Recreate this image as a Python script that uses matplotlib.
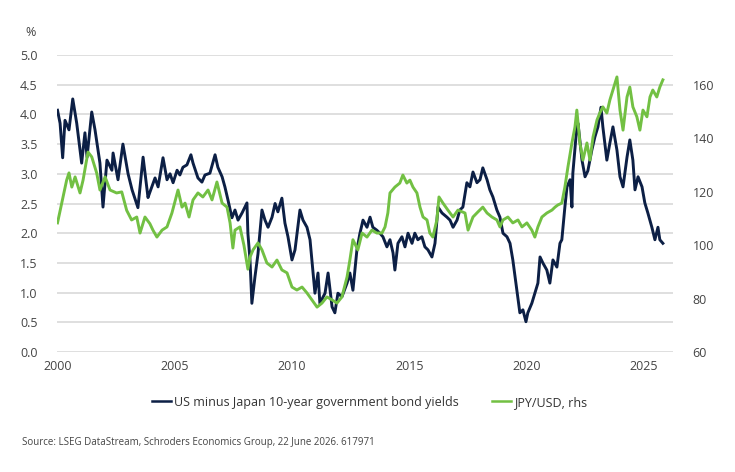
import matplotlib
matplotlib.use("Agg")
import matplotlib.pyplot as plt
from matplotlib.lines import Line2D

# US minus Japan 10y yield spread (%), decimal year vs value
spread_t = [2000.00, 2000.11, 2000.22, 2000.32, 2000.49, 2000.65, 2000.82, 2001.03, 2001.17, 2001.26,
            2001.46, 2001.60, 2001.81, 2001.94, 2002.11, 2002.32, 2002.37, 2002.58, 2002.79, 2003.01,
            2003.18, 2003.43, 2003.65, 2003.86, 2003.94, 2004.16, 2004.29, 2004.50, 2004.67, 2004.80,
            2004.93, 2005.10, 2005.22, 2005.35, 2005.52, 2005.69, 2005.78, 2005.99, 2006.16, 2006.29,
            2006.50, 2006.72, 2006.84, 2007.02, 2007.14, 2007.27, 2007.44, 2007.57, 2007.70, 2007.87,
            2008.08, 2008.12, 2008.21, 2008.29, 2008.42, 2008.55, 2008.72, 2008.85, 2008.98, 2009.15,
            2009.28, 2009.40, 2009.57, 2009.70, 2009.83, 2010.00, 2010.13, 2010.34, 2010.47, 2010.64,
            2010.77, 2010.98, 2011.11, 2011.19, 2011.41, 2011.54, 2011.71, 2011.83, 2011.96, 2012.13,
            2012.35, 2012.47, 2012.60, 2012.77, 2012.90, 2013.03, 2013.20, 2013.33, 2013.45, 2013.62,
            2013.75, 2013.88, 2014.05, 2014.18, 2014.31, 2014.39, 2014.52, 2014.69, 2014.82, 2014.95,
            2015.12, 2015.24, 2015.37, 2015.54, 2015.67, 2015.80, 2015.97, 2016.10, 2016.23, 2016.40,
            2016.61, 2016.74, 2016.87, 2017.04, 2017.16, 2017.29, 2017.46, 2017.59, 2017.72, 2017.89,
            2018.02, 2018.14, 2018.32, 2018.44, 2018.57, 2018.74, 2018.87, 2019.00, 2019.17, 2019.30,
            2019.42, 2019.59, 2019.72, 2019.85, 2019.98, 2020.06, 2020.23, 2020.36, 2020.49, 2020.58,
            2020.70, 2020.87, 2021.00, 2021.13, 2021.30, 2021.43, 2021.51, 2021.64, 2021.73, 2021.86,
            2021.94, 2021.98, 2022.15, 2022.20, 2022.37, 2022.50, 2022.62, 2022.79, 2022.92, 2023.05,
            2023.18, 2023.26, 2023.43, 2023.56, 2023.69, 2023.86, 2023.99, 2024.12, 2024.29, 2024.41,
            2024.54, 2024.63, 2024.76, 2024.93, 2025.05, 2025.18, 2025.35, 2025.48, 2025.61, 2025.69,
            2025.82]
spread_v = [4.07, 3.85, 3.27, 3.90, 3.74, 4.26, 3.85, 3.18, 3.69, 3.28,
            4.04, 3.74, 3.18, 2.44, 3.23, 3.06, 3.35, 2.90, 3.50, 3.00,
            2.73, 2.43, 3.28, 2.60, 2.69, 2.93, 2.78, 3.27, 2.90, 3.00,
            2.85, 3.06, 2.98, 3.11, 3.15, 3.32, 3.18, 2.93, 2.86, 2.98,
            3.01, 3.32, 3.11, 2.95, 2.78, 2.56, 2.26, 2.39, 2.22, 2.34,
            2.51, 2.00, 1.55, 0.82, 1.26, 1.65, 2.39, 2.22, 2.10, 2.27,
            2.50, 2.36, 2.59, 2.17, 1.94, 1.55, 1.72, 2.39, 2.22, 2.10,
            1.89, 0.99, 1.33, 0.82, 0.99, 1.33, 0.76, 0.66, 0.99, 0.93,
            1.16, 1.33, 1.04, 1.72, 2.00, 2.22, 2.10, 2.27, 2.10, 2.05,
            2.00, 1.94, 1.77, 1.89, 1.67, 1.38, 1.83, 1.94, 1.77, 2.00,
            1.83, 2.00, 1.89, 1.94, 1.77, 1.72, 1.60, 1.83, 2.44, 2.34,
            2.27, 2.22, 2.10, 2.22, 2.39, 2.44, 2.85, 2.78, 3.03, 2.85,
            2.90, 3.10, 2.90, 2.73, 2.61, 2.39, 2.27, 2.00, 1.94, 1.83,
            1.55, 1.04, 0.66, 0.71, 0.51, 0.66, 0.82, 0.99, 1.16, 1.60,
            1.50, 1.38, 1.16, 1.55, 1.43, 1.83, 1.89, 2.44, 2.78, 2.90,
            2.44, 3.01, 3.79, 3.85, 3.23, 2.95, 3.05, 3.40, 3.62, 3.79,
            4.12, 3.79, 3.23, 3.52, 3.79, 3.40, 2.95, 2.78, 3.28, 3.57,
            3.23, 2.73, 2.95, 2.78, 2.51, 2.34, 2.10, 1.89, 2.10, 1.89,
            1.83]

# JPY per USD (rhs)
jpy_t = [2000.00, 2000.18, 2000.39, 2000.49, 2000.61, 2000.75, 2000.96, 2001.09, 2001.30, 2001.46,
         2001.67, 2001.81, 2002.03, 2002.24, 2002.52, 2002.74, 2002.95, 2003.16, 2003.38, 2003.52,
         2003.73, 2003.94, 2004.07, 2004.24, 2004.46, 2004.67, 2004.88, 2005.14, 2005.31, 2005.44,
         2005.61, 2005.78, 2005.99, 2006.20, 2006.42, 2006.59, 2006.80, 2007.02, 2007.23, 2007.36,
         2007.48, 2007.57, 2007.78, 2007.95, 2008.12, 2008.21, 2008.34, 2008.55, 2008.72, 2008.93,
         2009.15, 2009.36, 2009.57, 2009.79, 2010.00, 2010.21, 2010.43, 2010.64, 2010.85, 2011.07,
         2011.28, 2011.49, 2011.71, 2011.92, 2012.13, 2012.35, 2012.47, 2012.60, 2012.81, 2012.99,
         2013.20, 2013.41, 2013.62, 2013.84, 2013.97, 2014.09, 2014.18, 2014.39, 2014.60, 2014.73,
         2014.90, 2015.03, 2015.16, 2015.33, 2015.46, 2015.59, 2015.76, 2015.88, 2016.01, 2016.18,
         2016.27, 2016.44, 2016.65, 2016.87, 2017.08, 2017.38, 2017.51, 2017.72, 2017.93, 2018.14,
         2018.32, 2018.53, 2018.74, 2018.87, 2019.00, 2019.21, 2019.42, 2019.64, 2019.81, 2020.02,
         2020.23, 2020.36, 2020.49, 2020.66, 2020.87, 2021.09, 2021.22, 2021.34, 2021.51, 2021.64,
         2021.77, 2021.94, 2022.07, 2022.15, 2022.28, 2022.41, 2022.58, 2022.71, 2022.84, 2023.01,
         2023.13, 2023.26, 2023.43, 2023.56, 2023.69, 2023.86, 2023.99, 2024.12, 2024.29, 2024.41,
         2024.54, 2024.71, 2024.84, 2024.97, 2025.14, 2025.27, 2025.39, 2025.56, 2025.69, 2025.82]
jpy_v = [108.3, 115.7, 124.3, 127.0, 121.7, 125.5, 119.5, 124.3, 134.8, 133.0,
         127.0, 120.6, 125.5, 120.6, 119.5, 119.9, 113.0, 109.4, 110.5, 104.5,
         110.5, 108.0, 105.6, 103.0, 105.6, 106.8, 112.0, 120.6, 114.2, 115.7,
         110.5, 116.9, 119.5, 118.0, 120.6, 116.9, 123.6, 115.7, 114.2, 108.3,
         98.9, 105.6, 106.8, 100.0, 91.0, 95.5, 98.2, 100.8, 98.2, 93.3,
         91.8, 94.4, 90.7, 89.6, 84.3, 83.2, 84.3, 82.1, 79.5, 76.8,
         78.3, 80.6, 79.5, 78.3, 80.6, 88.1, 94.4, 102.0, 98.2, 104.5,
         103.0, 105.6, 104.5, 104.5, 106.8, 112.0, 119.5, 121.7, 123.2, 126.2,
         123.2, 124.3, 121.7, 119.5, 114.2, 110.5, 109.4, 104.5, 103.0, 109.4,
         118.0, 115.7, 113.1, 110.5, 113.1, 112.0, 105.6, 110.5, 112.4, 114.2,
         112.0, 110.5, 109.4, 106.8, 109.4, 110.5, 108.3, 109.4, 106.8, 108.3,
         105.6, 103.0, 106.8, 110.5, 112.0, 113.1, 114.2, 115.0, 115.7, 121.7,
         129.2, 138.2, 144.2, 150.5, 138.2, 131.8, 138.2, 131.8, 140.4, 146.8,
         149.4, 151.7, 149.4, 154.3, 158.0, 162.9, 150.5, 143.0, 155.4, 159.1,
         151.7, 148.0, 143.0, 150.5, 148.0, 155.4, 158.0, 155.4, 159.1, 161.8]

left_ticks = [0.0, 0.5, 1.0, 1.5, 2.0, 2.5, 3.0, 3.5, 4.0, 4.5, 5.0]
right_ticks = [60, 80, 100, 120, 140, 160]
year_ticks = [2000, 2005, 2010, 2015, 2020, 2025]

NAVY = "#0c1f45"
GREEN = "#72c043"
GRID = "#dcdcdc"
TEXT = "#444444"

plt.rcParams["font.family"] = ["Open Sans", "DejaVu Sans"]

fig = plt.figure(figsize=(7.35, 4.72), dpi=100)
ax = fig.add_axes([0.0776, 0.2542, 0.838, 0.6293])
ax2 = ax.twinx()

ax.plot(spread_t, spread_v, color=NAVY, lw=2.1, solid_joinstyle="round")
ax2.plot(jpy_t, jpy_v, color=GREEN, lw=2.1, solid_joinstyle="round")

ax.set_xlim(1999.98, 2026.25)
ax.set_ylim(0, 5.0)
ax2.set_ylim(60, 60 + 100 * 5.0 / 4.5)

ax.set_yticks(left_ticks)
ax.set_yticklabels([f"{v:.1f}" for v in left_ticks])
ax2.set_yticks(right_ticks)
ax2.set_yticklabels([str(v) for v in right_ticks])
ax.set_xticks(year_ticks)
ax.set_xticklabels([str(y) for y in year_ticks])

for a in (ax, ax2):
    for s in a.spines.values():
        s.set_visible(False)
    a.tick_params(length=0, labelsize=9, colors=TEXT)
ax.tick_params(axis="y", pad=14)
ax2.tick_params(axis="y", pad=14)
ax.tick_params(axis="x", pad=6)

ax.set_axisbelow(True)
ax.yaxis.grid(True, color=GRID, lw=1.3)

fig.text(0.034, 0.932, "%", fontsize=9, color=TEXT, ha="left", va="center")

handles = [Line2D([], [], color=NAVY, lw=1.8), Line2D([], [], color=GREEN, lw=1.8)]
labels = ["US minus Japan 10-year government bond yields", "JPY/USD, rhs"]
fig.legend(handles, labels, loc="center", bbox_to_anchor=(0.503, 0.148), ncol=2, frameon=False,
           fontsize=9, handlelength=1.5, handletextpad=0.25, columnspacing=2.7, labelcolor="#333333")

fig.text(0.03, 0.062, "Source: LSEG DataStream, Schroders Economics Group, 22 June 2026. 617971",
         fontsize=7, color=TEXT, ha="left", va="center")

fig.savefig("out.png", dpi=100)
